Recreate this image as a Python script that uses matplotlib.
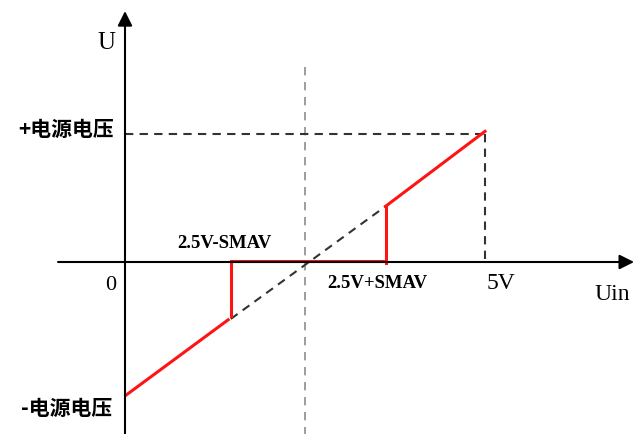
import matplotlib
matplotlib.use("Agg")
import matplotlib.pyplot as plt

# ---- data ----
uin_max = 5.0            # "5V"
uin_mid = 2.5            # centre
thr_low = 1.47           # 2.5V-SMAV
thr_high = 3.62          # 2.5V+SMAV
u_pos = 0.985            # +电源电压
u_neg = -1.03            # -电源电压 (line start)
labels_y = ["+电源电压", "-电源电压"]
labels_x = ["0", "5V"]
thr_labels = ["2.5V-SMAV", "2.5V+SMAV"]

def ideal(u):
    return u_neg + (u_pos - u_neg) * u / uin_max

fig = plt.figure(figsize=(6.35, 4.35), dpi=100)
ax = fig.add_axes([0, 0, 1, 1])
ax.set_xlim(-1.736, 7.083)
ax.set_ylim(-1.323, 2.023)
ax.axis("off")

serif = ["Liberation Serif", "DejaVu Serif"]
cjk = ["Noto Sans CJK SC", "DejaVu Sans"]

# axes with arrows
ax.annotate("", xy=(7.07, 0), xytext=(-0.93, 0),
            arrowprops=dict(arrowstyle="-|>", lw=1.5, color="black",
                            mutation_scale=22, shrinkA=0, shrinkB=0))
ax.annotate("", xy=(0, 1.93), xytext=(0, -1.33),
            arrowprops=dict(arrowstyle="-|>", lw=1.5, color="black",
                            mutation_scale=22, shrinkA=0, shrinkB=0))

# gray dashed centre line
ax.plot([uin_mid, uin_mid], [1.5, -1.33], ls=(0, (5, 4)), color="#8c8c8c", lw=1.2)

# black dashed guides
ax.plot([0, uin_max], [u_pos, u_pos], ls=(0, (4, 3)), color="#333333", lw=1.5)
ax.plot([uin_max, uin_max], [u_pos, 0], ls=(0, (4, 3)), color="#333333", lw=1.5)
ax.plot([thr_low, thr_high], [ideal(thr_low), ideal(thr_high)],
        ls=(0, (4, 3)), color="#333333", lw=1.5)

# red transfer curve
red = "#ff1414"
ax.plot([0, thr_low - 0.02], [u_neg, ideal(thr_low)], color=red, lw=2.2, solid_capstyle="butt")
ax.plot([thr_low, thr_low], [ideal(thr_low) + 0.02, 0.005], color=red, lw=2.2)
ax.plot([thr_low, thr_high], [0.005, 0.005], color=red, lw=2.2)
ax.plot([thr_high, thr_high], [-0.005, ideal(thr_high)], color=red, lw=2.2)
ax.plot([thr_high, uin_max], [ideal(thr_high), u_pos + 0.02], color=red, lw=2.2)

# texts
ax.text(-0.26, 1.69, "U", family=serif, fontsize=18, ha="center", va="center")
ax.text(-0.15, 1.03, labels_y[0], family=cjk, fontsize=15, fontweight="bold",
        ha="right", va="center")
ax.text(-0.18, -1.12, labels_y[1], family=cjk, fontsize=15, fontweight="bold",
        ha="right", va="center")
ax.text(-0.2, -0.17, labels_x[0], family=serif, fontsize=16, ha="center", va="center")
ax.text(uin_max + 0.22, -0.16, labels_x[1], family=serif, fontsize=17, ha="center", va="center")
ax.text(6.76, -0.24, "Uin", family=serif, fontsize=17, ha="center", va="center")
ax.text(1.38, 0.15, thr_labels[0], family=serif, fontsize=13.5,
        fontweight="bold", ha="center", va="center")
ax.text(3.5, -0.16, thr_labels[1], family=serif, fontsize=13.5,
        fontweight="bold", ha="center", va="center")

fig.savefig("out.png", dpi=100)
